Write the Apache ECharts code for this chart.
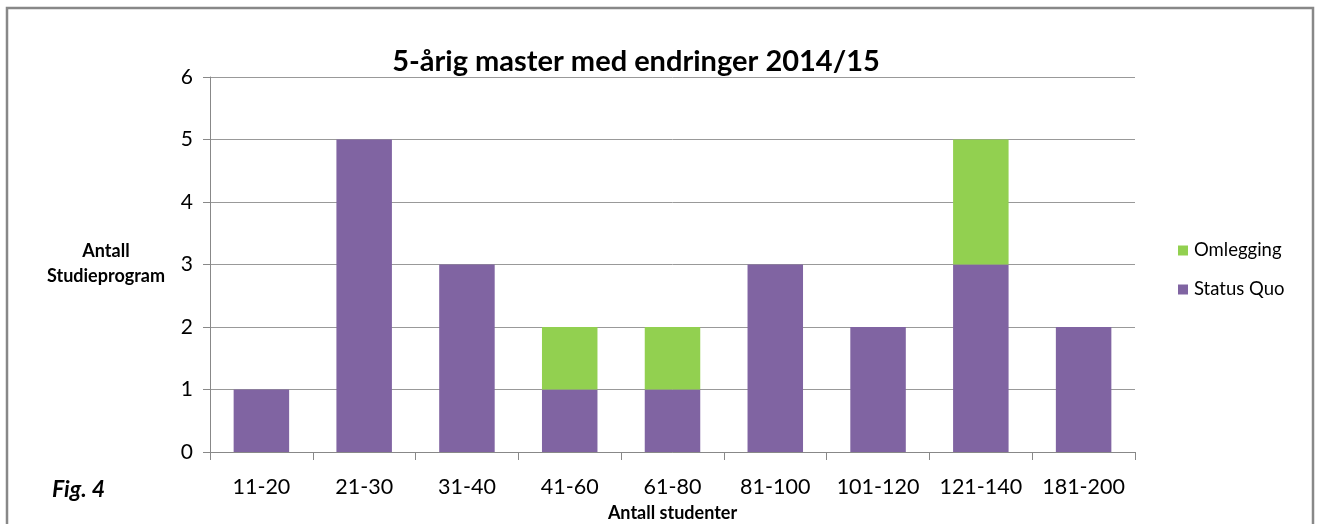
<!DOCTYPE html>
<html>
<head>
<meta charset="utf-8">
<script src="https://cdn.jsdelivr.net/npm/echarts@6/dist/echarts.min.js"></script>
<style>
html,body{margin:0;padding:0;background:#fff;}
#c{width:1319px;height:524px;}
</style>
</head>
<body>
<div id="c"></div>
<script>
const categories = ['11-20','21-30','31-40','41-60','61-80','81-100','101-120','121-140','181-200'];
const statusQuo = [1,5,3,1,1,3,2,3,2];
const omlegging = [0,0,0,1,1,0,0,2,0];
const yTicks = [0,1,2,3,4,5,6];

const FONT = 'Lato, "Open Sans", sans-serif';
const chart = echarts.init(document.getElementById('c'), null, {renderer:'canvas'});
chart.setOption({
  animation:false,
  textStyle:{fontFamily:FONT},
  title:{
    text:'5-årig master med endringer 2014/15',
    left:631, top:42, textAlign:'center',
    textStyle:{fontFamily:FONT,fontSize:29,fontWeight:'bold',color:'#000'}
  },
  graphic:[
    {type:'rect',shape:{x:7,y:8,width:1306,height:540},style:{fill:'none',stroke:'#888',lineWidth:2.5},silent:true},
    {type:'text',x:106,y:264,style:{text:'Antall\nStudieprogram',font:'bold 18px '+FONT,fill:'#000',align:'center',verticalAlign:'middle',lineHeight:25}},
    {type:'text',x:52,y:490,style:{text:'Fig. 4',font:'italic bold 23px '+FONT,fill:'#000',align:'left',verticalAlign:'middle'}}
  ],
  legend:{
    orient:'vertical',
    left:1173, top:236,
    itemWidth:10,itemHeight:10,itemGap:20,
    icon:'rect',
    data:['Omlegging','Status Quo'],
    textStyle:{fontFamily:FONT,fontSize:18.5,color:'#000',padding:[0,0,0,1]}
  },
  grid:{left:210,top:77,width:925,height:375,containLabel:false,outerBoundsMode:'none'},
  xAxis:{
    type:'category',
    data:categories,
    name:'Antall studenter',
    nameLocation:'middle',
    nameGap:52,
    nameTextStyle:{fontFamily:FONT,fontSize:18,fontWeight:'bold',color:'#000'},
    axisLine:{lineStyle:{color:'#888',width:1}},
    axisTick:{show:true,length:8,alignWithLabel:false,lineStyle:{color:'#888'}},
    axisLabel:{fontFamily:FONT,fontSize:21.5,color:'#000',margin:24,interval:0}
  },
  yAxis:{
    type:'value',
    min:0,max:6,interval:1,
    axisLine:{show:true,lineStyle:{color:'#888',width:1}},
    axisTick:{show:true,length:7,lineStyle:{color:'#888'}},
    axisLabel:{fontFamily:FONT,fontSize:21,color:'#000',margin:17,
      formatter:function(v){return yTicks.indexOf(v)>=0?String(v):'';}},
    splitLine:{lineStyle:{color:'#999',width:1}}
  },
  series:[
    {name:'Status Quo',type:'bar',stack:'a',data:statusQuo,barWidth:'54%',itemStyle:{color:'#8064A2'}},
    {name:'Omlegging',type:'bar',stack:'a',data:omlegging,barWidth:'54%',itemStyle:{color:'#92D050'}}
  ]
});
</script>
</body>
</html>
